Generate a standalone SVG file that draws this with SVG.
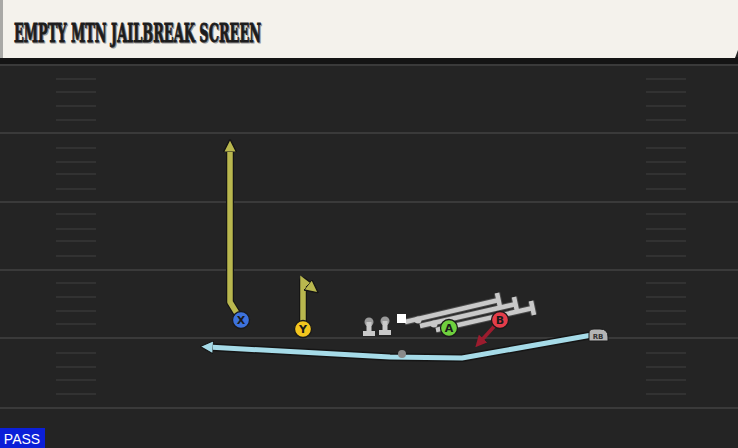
<svg xmlns="http://www.w3.org/2000/svg" width="738" height="448" viewBox="0 0 738 448">
<defs>
<style>
.yl{stroke:#3a3a3a;stroke-width:2}
.hs{stroke:#323232;stroke-width:2}
.lbl{font-family:"DejaVu Sans","Liberation Sans",sans-serif;font-weight:bold;font-size:11px;fill:#1a1a1a;text-anchor:middle}
.pc{stroke:#1a1a1a;stroke-width:1.3}
.rt-out{fill:none;stroke:#151515;stroke-width:8;stroke-linejoin:round;stroke-linecap:round}
.ol{fill:none;stroke:#c9c9c9;stroke-width:4.5;stroke-linecap:butt}
.ol-out{fill:none;stroke:#4a4a4a;stroke-width:6.5}
</style>
<marker id="arY" viewBox="0 0 10 10" refX="4" refY="5" markerWidth="2.4" markerHeight="2.4" orient="auto" markerUnits="strokeWidth"><path d="M0,0 L10,5 L0,10 Z" fill="#b9b74e" stroke="#151515" stroke-width="1"/></marker>
<marker id="arB" viewBox="0 0 10 10" refX="4" refY="5" markerWidth="2.6" markerHeight="2.6" orient="auto" markerUnits="strokeWidth"><path d="M0,0 L10,5 L0,10 Z" fill="#a6dbe8" stroke="#151515" stroke-width="0.8"/></marker>
<marker id="arR" viewBox="0 0 10 10" refX="4" refY="5" markerWidth="3.3" markerHeight="3.3" orient="auto" markerUnits="strokeWidth"><path d="M0,0 L10,5 L0,10 Z" fill="#9c1c2e"/></marker>
</defs>
<rect x="0" y="0" width="738" height="448" fill="#242424"/>
<g id="field">
<line class="yl" x1="0" y1="65" x2="738" y2="65"/>
<line class="yl" x1="0" y1="133" x2="738" y2="133"/>
<line class="yl" x1="0" y1="202" x2="738" y2="202"/>
<line class="yl" x1="0" y1="270" x2="738" y2="270"/>
<line class="yl" x1="0" y1="338" x2="738" y2="338"/>
<line class="yl" x1="0" y1="408" x2="738" y2="408"/>
<path class="hs" d="M56,79H96M56,92H96M56,106H96M56,120H96M56,148H96M56,162H96M56,174H96M56,189H96M56,214H96M56,229H96M56,241H96M56,256H96M56,283H96M56,297H96M56,311H96M56,324H96M56,353H96M56,367H96M56,380H96M56,394H96"/>
<path class="hs" d="M646,79H686M646,92H686M646,106H686M646,120H686M646,148H686M646,162H686M646,174H686M646,189H686M646,214H686M646,229H686M646,241H686M646,256H686M646,283H686M646,297H686M646,311H686M646,324H686M646,353H686M646,367H686M646,380H686M646,394H686"/>
</g>
<g id="header">
<rect x="0" y="57" width="738" height="7" fill="#141414"/>
<path d="M0,0 H738 V50 L735,58 H0 Z" fill="#f4f2ec"/>
<rect x="0" y="0" width="3" height="58" fill="#a9a9a6"/>
<text x="15" y="43" font-family="'DejaVu Serif Condensed','DejaVu Serif',serif" font-weight="bold" font-size="26" fill="#9a9a9a" stroke="#9a9a9a" stroke-width="1.2" textLength="247" lengthAdjust="spacingAndGlyphs">EMPTY MTN JAILBREAK SCREEN</text>
<text x="14" y="42" font-family="'DejaVu Serif Condensed','DejaVu Serif',serif" font-weight="bold" font-size="26" fill="#1c1c1c" stroke="#1c1c1c" stroke-width="0.9" textLength="247" lengthAdjust="spacingAndGlyphs">EMPTY MTN JAILBREAK SCREEN</text>
</g>
<g id="connectors">
<polyline class="rt-out" points="592,335 462,358 390,357 208,347"/>
<polyline points="592,335 462,358 390,357 208,347" fill="none" stroke="#a6dbe8" stroke-width="5" stroke-linejoin="round" marker-end="url(#arB)"/>
<polyline class="rt-out" points="241,320 230,302 230,147"/>
<polyline points="241,320 230,302 230,147" fill="none" stroke="#b9b74e" stroke-width="5.5" stroke-linejoin="round" marker-end="url(#arY)"/>
<polyline class="rt-out" points="303,329 303,281 312,288"/>
<polyline points="303,329 303,281 312,288" fill="none" stroke="#b9b74e" stroke-width="5.5" stroke-linejoin="miter" marker-end="url(#arY)"/>
<line x1="500" y1="320" x2="480" y2="342" stroke="#9c1c2e" stroke-width="3.5" marker-end="url(#arR)"/>
<g id="ol-blocks">
<path class="ol-out" d="M405,322 L499,300 M420,326 L516,304 M436,330 L533,308"/>
<path class="ol-out" d="M497,293 L500,307 M514,297 L517,311 M531,301 L534,315"/>
<path class="ol" d="M405,322 L499,300 M420,326 L516,304 M436,330 L533,308"/>
<path class="ol" d="M497,293 L500,307 M514,297 L517,311 M531,301 L534,315"/>
<circle cx="418" cy="320" r="3.5" fill="#c9c9c9"/>
<circle cx="434" cy="324" r="3.5" fill="#c9c9c9"/>
</g>
</g>
<g id="ball"><circle cx="402" cy="354" r="4" fill="#8a8a8a"/></g>
<g id="ol1"><circle cx="369" cy="322" r="4.5" fill="#9a9a9a"/><rect x="366.5" y="322" width="5" height="10" fill="#c9c9c9"/><rect x="363" y="331" width="12" height="5" fill="#c9c9c9"/></g>
<g id="ol2"><circle cx="385" cy="321" r="4.5" fill="#9a9a9a"/><rect x="382.5" y="321" width="5" height="10" fill="#c9c9c9"/><rect x="379" y="330" width="12" height="5" fill="#c9c9c9"/></g>
<g id="center"><rect x="397" y="314" width="9" height="9" fill="#ffffff"/></g>
<g id="X"><circle class="pc" cx="241" cy="320" r="8.5" fill="#3d72dc"/><text class="lbl" x="241" y="324">X</text></g>
<g id="Y"><circle class="pc" cx="303" cy="329" r="8.5" fill="#f2c51e"/><text class="lbl" x="303" y="333">Y</text></g>
<g id="A"><circle class="pc" cx="449" cy="328" r="8.5" fill="#6fd03e"/><text class="lbl" x="449" y="332">A</text></g>
<g id="B"><circle class="pc" cx="500" cy="320" r="8.5" fill="#e43d4a"/><text class="lbl" x="500" y="324">B</text></g>
<g id="RB"><path d="M589,341 V333 Q589,329 594,329 H600 Q608,329 608,337 V341 Z" fill="#b4b4b4" stroke="#1a1a1a" stroke-width="1"/><text x="598" y="338.5" font-family="'DejaVu Sans','Liberation Sans',sans-serif" font-size="7" font-weight="bold" fill="#333" text-anchor="middle">RB</text></g>
<g id="pass"><rect x="0" y="428" width="45" height="20" fill="#0b1fd8"/><text x="22" y="444" font-family="'Liberation Sans',Arial,sans-serif" font-size="14" fill="#ffffff" text-anchor="middle">PASS</text></g>
</svg>
